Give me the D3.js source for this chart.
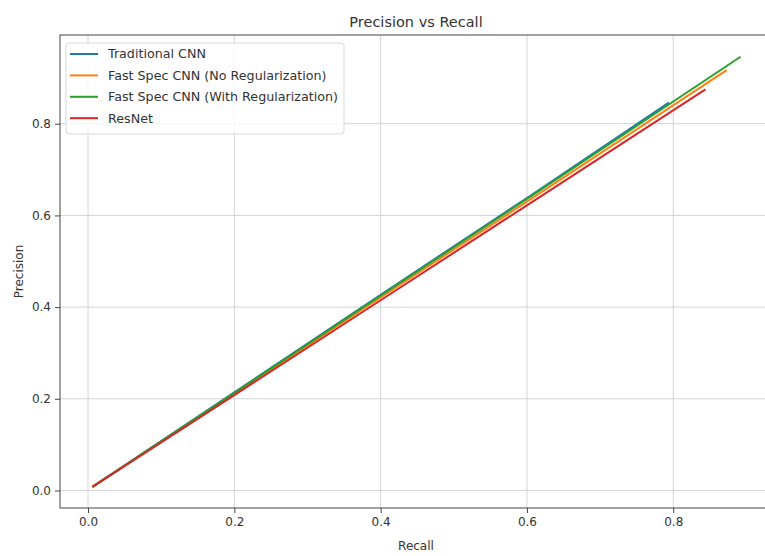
<!DOCTYPE html>
<html>
<head>
<meta charset="utf-8">
<script src="https://cdn.jsdelivr.net/npm/d3@7/dist/d3.min.js"></script>
<style>
  body { margin: 0; background: #fff; }
  text { font-family: "DejaVu Sans", sans-serif; fill: #333; }
</style>
</head>
<body>
<div id="chart-area"></div>
<script>
// values
var seriesNames = ["Traditional CNN", "Fast Spec CNN (No Regularization)", "Fast Spec CNN (With Regularization)", "ResNet"];
var seriesColors = ["#1f77b4", "#ff7f0e", "#2ca02c", "#d62728"];
var recallTraditional = [0.006, 0.2, 0.4, 0.6, 0.794];
var precisionTraditional = [0.008, 0.214, 0.427, 0.638, 0.846];
var recallNoReg = [0.006, 0.2, 0.4, 0.6, 0.873];
var precisionNoReg = [0.008, 0.211, 0.421, 0.630, 0.917];
var recallWithReg = [0.006, 0.2, 0.4, 0.6, 0.892];
var precisionWithReg = [0.008, 0.213, 0.425, 0.636, 0.946];
var recallResNet = [0.006, 0.2, 0.4, 0.6, 0.844];
var precisionResNet = [0.008, 0.208, 0.415, 0.622, 0.875];
var xTicks = [0.0, 0.2, 0.4, 0.6, 0.8];
var yTicks = [0.0, 0.2, 0.4, 0.6, 0.8];

var width = 765;
var height = 556;
var margin = {top: 35, left: 60, bottom: 48};
var plotRight = 772;   // right edge of the axes falls just outside the picture

var svg = d3.select("#chart-area")
    .append("svg")
        .attr("width", width)
        .attr("height", height);

var x = d3.scaleLinear()
    .domain([-0.0383, 0.935])
    .range([margin.left, plotRight]);

var y = d3.scaleLinear()
    .domain([-0.0382, 0.9935])
    .range([height - margin.bottom, margin.top]);

var series = [
    {name: seriesNames[0], color: seriesColors[0], r: recallTraditional, p: precisionTraditional},
    {name: seriesNames[1], color: seriesColors[1], r: recallNoReg, p: precisionNoReg},
    {name: seriesNames[2], color: seriesColors[2], r: recallWithReg, p: precisionWithReg},
    {name: seriesNames[3], color: seriesColors[3], r: recallResNet, p: precisionResNet}
];

// grid
var g = svg.append("g");
g.selectAll(".vgrid")
    .data(xTicks)
    .enter().append("line")
        .attr("x1", (d) => x(d)).attr("x2", (d) => x(d))
        .attr("y1", y.range()[0]).attr("y2", y.range()[1])
        .attr("stroke", "#d4d4d4").attr("stroke-width", 1);
g.selectAll(".hgrid")
    .data(yTicks)
    .enter().append("line")
        .attr("x1", margin.left).attr("x2", plotRight)
        .attr("y1", (d) => y(d)).attr("y2", (d) => y(d))
        .attr("stroke", "#d4d4d4").attr("stroke-width", 1);

// lines
var line = d3.line()
    .x((d) => x(d[0]))
    .y((d) => y(d[1]));

svg.append("g").selectAll("path")
    .data(series)
    .enter().append("path")
        .attr("d", (s) => line(s.r.map((v, i) => [v, s.p[i]])))
        .attr("fill", "none")
        .attr("stroke", (s) => s.color)
        .attr("stroke-width", 2);

// axes
var xAxis = d3.axisBottom(x).tickValues(xTicks).tickFormat(d3.format(".1f")).tickSize(5).tickPadding(4);
var yAxis = d3.axisLeft(y).tickValues(yTicks).tickFormat(d3.format(".1f")).tickSize(5).tickPadding(4);

var xg = svg.append("g")
    .attr("transform", "translate(0," + y.range()[0] + ")")
    .call(xAxis);
var yg = svg.append("g")
    .attr("transform", "translate(" + margin.left + ",0)")
    .call(yAxis);
[xg, yg].forEach((a) => {
    a.select(".domain").remove();
    a.selectAll("line").attr("stroke", "#444");
    a.selectAll("text").attr("font-size", "12px").attr("fill", "#333")
        .style("font-family", "DejaVu Sans, sans-serif");
});

// spines
svg.append("rect")
    .attr("x", margin.left)
    .attr("y", margin.top)
    .attr("width", plotRight - margin.left)
    .attr("height", y.range()[0] - margin.top)
    .attr("fill", "none")
    .attr("stroke", "#444")
    .attr("stroke-width", 1);

// title and labels
svg.append("text")
    .attr("x", (margin.left + plotRight) / 2)
    .attr("y", 27)
    .attr("font-size", "14.5px")
    .attr("text-anchor", "middle")
    .text("Precision vs Recall");

svg.append("text")
    .attr("x", (margin.left + plotRight) / 2)
    .attr("y", 550)
    .attr("font-size", "12px")
    .attr("text-anchor", "middle")
    .text("Recall");

svg.append("text")
    .attr("transform", "translate(23," + ((margin.top + y.range()[0]) / 2) + ") rotate(-90)")
    .attr("font-size", "12px")
    .attr("text-anchor", "middle")
    .text("Precision");

// legend
var legend = svg.append("g").attr("transform", "translate(66,43)");
legend.append("rect")
    .attr("width", 278)
    .attr("height", 91)
    .attr("rx", 3)
    .attr("fill", "#fff")
    .attr("fill-opacity", 0.8)
    .attr("stroke", "#d9d9d9");

var items = legend.selectAll(".item")
    .data(series)
    .enter().append("g")
        .attr("transform", (d, i) => "translate(0," + (11 + i * 21.4) + ")");
items.append("line")
    .attr("x1", 4).attr("x2", 32)
    .attr("stroke", (d) => d.color)
    .attr("stroke-width", 2);
items.append("text")
    .attr("x", 42)
    .attr("dy", "0.35em")
    .attr("font-size", "12.7px")
    .text((d) => d.name);
</script>
</body>
</html>
